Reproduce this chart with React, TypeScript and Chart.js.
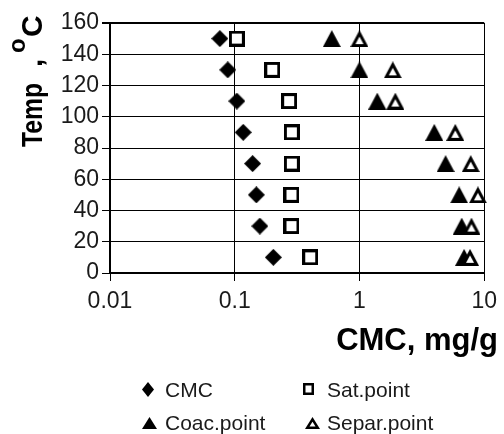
import React, { useEffect, useRef } from 'react';
import { Chart, registerables } from 'chart.js';

Chart.register(...registerables);

// ---- data ----
const temps = [150, 130, 110, 90, 70, 50, 30, 10];
const cmcValues = [0.076, 0.088, 0.104, 0.117, 0.139, 0.149, 0.159, 0.204];
const satValues = [0.104, 0.2, 0.273, 0.287, 0.287, 0.285, 0.285, 0.403];
const coacValues = [0.6, 1.0, 1.39, 3.98, 4.9, 6.3, 6.6, 6.9];
const separValues = [1.0, 1.85, 1.94, 5.86, 7.8, 8.9, 7.9, 7.7];
const xTicks = [0.01, 0.1, 1, 10];
const yMin = 0;
const yMax = 160;
const yStep = 20;
const seriesNames = ['CMC', 'Sat.point', 'Coac.point', 'Separ.point'];
const xTitle = 'CMC, mg/g';
const yTitleWord = 'Temp';
const yTitleComma = ',';
const yTitleSup = 'o';
const yTitleEnd = 'C';

const FONT = '"Liberation Sans", Arial, sans-serif';
const TEXT_COLOR = '#1a1a1a';

type Kind = 'diamond' | 'square' | 'triangle' | 'openTriangle';

function makeMarker(kind: Kind, w: number, h: number, border = 3): HTMLCanvasElement {
  const c = document.createElement('canvas');
  c.width = w;
  c.height = h;
  const g = c.getContext('2d')!;
  g.fillStyle = '#000';
  if (kind === 'diamond') {
    g.beginPath();
    g.moveTo(w / 2, 0);
    g.lineTo(w, h / 2);
    g.lineTo(w / 2, h);
    g.lineTo(0, h / 2);
    g.closePath();
    g.fill();
  } else if (kind === 'square') {
    g.fillRect(0, 0, w, h);
    g.fillStyle = '#fff';
    g.fillRect(border, border, w - 2 * border, h - 2 * border);
  } else {
    const A = [w / 2, 0];
    const B = [w, h];
    const C = [0, h];
    g.beginPath();
    g.moveTo(A[0], A[1]);
    g.lineTo(B[0], B[1]);
    g.lineTo(C[0], C[1]);
    g.closePath();
    g.fill();
    if (kind === 'openTriangle') {
      const a = w;
      const b = Math.hypot(w / 2, h);
      const cc = b;
      const per = a + b + cc;
      const ix = (a * A[0] + b * B[0] + cc * C[0]) / per;
      const iy = (a * A[1] + b * B[1] + cc * C[1]) / per;
      const r = (w * h) / 2 / (per / 2);
      const k = Math.max(0, (r - border) / r);
      const pts = [A, B, C].map((p) => [ix + k * (p[0] - ix), iy + k * (p[1] - iy)]);
      g.fillStyle = '#fff';
      g.beginPath();
      g.moveTo(pts[0][0], pts[0][1]);
      g.lineTo(pts[1][0], pts[1][1]);
      g.lineTo(pts[2][0], pts[2][1]);
      g.closePath();
      g.fill();
    }
  }
  return c;
}

export default function App() {
  const canvasRef = useRef<HTMLCanvasElement | null>(null);

  useEffect(() => {
    document.body.style.margin = '0';
    const canvas = canvasRef.current;
    if (!canvas) return;

    const plotMarkers = [
      makeMarker('diamond', 17, 17),
      makeMarker('square', 16, 16, 3),
      makeMarker('triangle', 18, 17),
      makeMarker('openTriangle', 18, 17, 3),
    ];
    const legendMarkers = [
      makeMarker('diamond', 12, 15),
      makeMarker('square', 11, 12, 2.5),
      makeMarker('triangle', 15, 12),
      makeMarker('openTriangle', 15, 12, 2.5),
    ];
    const seriesValues = [cmcValues, satValues, coacValues, separValues];

    const yTickValues: number[] = [];
    for (let v = yMin; v <= yMax; v += yStep) yTickValues.push(v);

    const overlay = {
      id: 'overlay',
      afterDraw(chart: any) {
        const ctx = chart.ctx as CanvasRenderingContext2D;
        ctx.save();
        // x title
        ctx.fillStyle = '#000';
        ctx.font = `bold 31px ${FONT}`;
        ctx.textAlign = 'right';
        ctx.textBaseline = 'alphabetic';
        ctx.fillText(xTitle, 498, 350);

        // y title (rotated), baseline at x=42, starting at y=147 going up
        ctx.save();
        ctx.translate(42, 147);
        ctx.rotate(-Math.PI / 2);
        ctx.textAlign = 'left';
        ctx.textBaseline = 'alphabetic';
        ctx.font = `bold 30px ${FONT}`;
        ctx.fillText(yTitleWord, 0, 0, 64);
        ctx.fillText(yTitleComma, 80, 0);
        ctx.font = `bold 24px ${FONT}`;
        ctx.fillText(yTitleSup, 94, -17, 15);
        ctx.font = `bold 30px ${FONT}`;
        ctx.fillText(yTitleEnd, 110, 0, 22);
        ctx.restore();

        // legend
        const textX = [165, 327];
        const markerX = [147.5, 308, 149, 312.5];
        const rows = [
          { my: 389, ty: 397 },
          { my: 422.5, ty: 430 },
        ];
        ctx.font = `21px ${FONT}`;
        ctx.fillStyle = TEXT_COLOR;
        ctx.textAlign = 'left';
        ctx.textBaseline = 'alphabetic';
        seriesNames.forEach((name, i) => {
          const row = rows[Math.floor(i / 2)];
          const m = legendMarkers[i];
          ctx.drawImage(m, Math.round(markerX[i] - m.width / 2), Math.round(row.my - m.height / 2));
          ctx.fillText(name, textX[i % 2], row.ty);
        });
        ctx.restore();
      },
    };

    const chart = new Chart(canvas, {
      type: 'scatter',
      data: {
        datasets: seriesNames.map((name, i) => ({
          label: name,
          data: temps.map((t, j) => ({ x: seriesValues[i][j], y: t })),
          pointStyle: plotMarkers[i] as any,
          pointRadius: 8,
          showLine: false,
          clip: false as any,
          order: 4 - i,
        })),
      },
      options: {
        responsive: false,
        maintainAspectRatio: false,
        animation: false,
        layout: { padding: { left: 0, right: 14, top: 23, bottom: 75 } },
        plugins: {
          legend: { display: false },
          tooltip: { enabled: false },
          title: { display: false },
        },
        scales: {
          x: {
            type: 'logarithmic',
            min: xTicks[0],
            max: xTicks[xTicks.length - 1],
            afterBuildTicks: (s: any) => {
              s.ticks = xTicks.map((v) => ({ value: v }));
            },
            afterFit: (s: any) => {
              s.height = 86;
            },
            ticks: {
              autoSkip: false,
              maxRotation: 0,
              padding: 7,
              color: TEXT_COLOR,
              font: { family: FONT, size: 23 },
              callback: (v: any) => String(v),
            },
            grid: { color: '#000', lineWidth: 1, tickLength: 8 },
            border: { color: '#000', width: 2 },
          },
          y: {
            min: yMin,
            max: yMax,
            afterBuildTicks: (s: any) => {
              s.ticks = yTickValues.map((v) => ({ value: v }));
            },
            afterFit: (s: any) => {
              s.width = 110;
            },
            ticks: {
              stepSize: yStep,
              padding: 3,
              color: TEXT_COLOR,
              font: { family: FONT, size: 23 },
            },
            grid: {
              color: '#000',
              lineWidth: (c: any) => (c.tick && c.tick.value === yMax ? 2 : 1),
              tickLength: 8,
            },
            border: { color: '#000', width: 2 },
          },
        },
      },
      plugins: [overlay],
    } as any);

    return () => {
      chart.destroy();
    };
  }, []);

  return (
    <div style={{ width: 504, height: 434 }}>
      <canvas ref={canvasRef} width={504} height={434} style={{ display: 'block' }} />
    </div>
  );
}
